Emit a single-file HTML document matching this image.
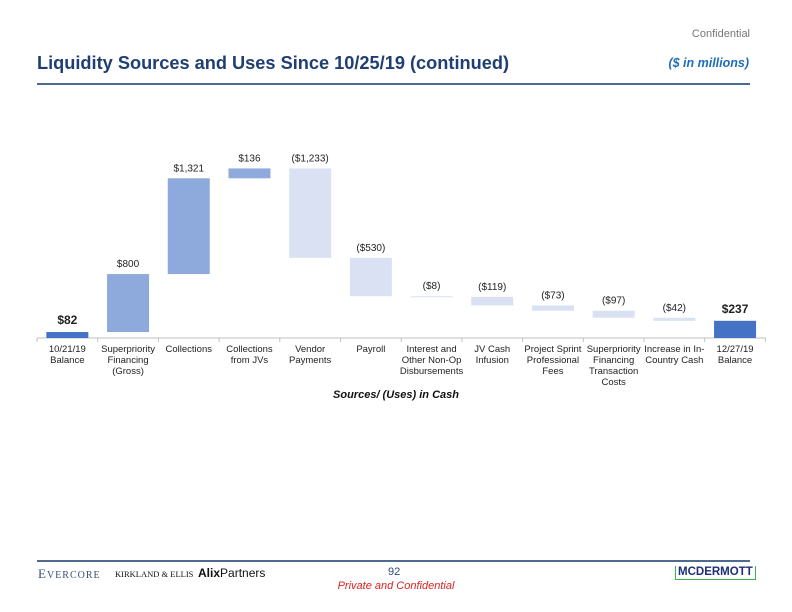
<!DOCTYPE html>
<html><head><meta charset="utf-8"><style>
body{margin:0;width:792px;height:612px;background:#fff;font-family:"Liberation Sans",sans-serif;position:relative;overflow:hidden}
.abs{position:absolute}
</style></head><body>
<div class="abs" style="right:42px;top:28px;font-size:11px;color:#777">Confidential</div>
<div class="abs" style="left:37px;top:53px;font-size:18.2px;font-weight:bold;color:#1F3F73">Liquidity Sources and Uses Since 10/25/19 (continued)</div>
<div class="abs" style="right:43px;top:56px;font-size:12.5px;font-weight:bold;font-style:italic;color:#1E6EB8">($ in millions)</div>
<div class="abs" style="left:37px;top:83px;width:713px;height:2px;background:#4F6A8F"></div>

<svg class="abs" style="left:0;top:0" width="792" height="612" id="chart"></svg>

<div class="abs" style="left:37px;top:560px;width:713px;height:1.5px;background:#4F6A8F"></div>
<div class="abs" style="left:38px;top:566px;font-family:'Liberation Serif',serif;font-size:13px;color:#3A4F7A;letter-spacing:1px">E<span style="font-size:10px">VERCORE</span></div>
<div class="abs" style="left:115px;top:569px;font-family:'Liberation Serif',serif;font-size:8.5px;color:#111">KIRKLAND &amp; ELLIS</div>
<div class="abs" style="left:198px;top:566px;font-size:12px;color:#111"><b>Alix</b>Partners</div>
<div class="abs" style="left:388px;top:566px;font-size:11px;color:#2B4A7A">92</div>
<div class="abs" style="left:0;width:792px;text-align:center;top:580px;font-size:11px;font-style:italic;color:#E02020">Private and Confidential</div>
<div class="abs" style="left:675px;top:566px;font-size:11.5px;font-weight:bold;color:#1C2F7A;border-bottom:1.5px solid #3BB54A;border-left:1.5px solid #3BB54A;border-right:1.5px solid #3BB54A;padding:0 2px;line-height:13px">MCDERMOTT</div>

<script>
const categories=[["10/21/19","Balance"],["Superpriority","Financing","(Gross)"],["Collections"],["Collections","from JVs"],["Vendor","Payments"],["Payroll"],["Interest and","Other Non-Op","Disbursements"],["JV Cash","Infusion"],["Project Sprint","Professional","Fees"],["Superpriority","Financing","Transaction","Costs"],["Increase in In-","Country Cash"],["12/27/19","Balance"]];
const values=[82,800,1321,136,-1233,-530,-8,-119,-73,-97,-42,237];
const kinds=["total","delta","delta","delta","delta","delta","delta","delta","delta","delta","delta","total"];
const valueLabels=["$82","$800","$1,321","$136","($1,233)","($530)","($8)","($119)","($73)","($97)","($42)","$237"];

const svg=document.getElementById('chart');
const NS='http://www.w3.org/2000/svg';
const baseY=338, pxPer=0.0725, x0=37, step=60.7, barW=42;
const y=v=>baseY-v*pxPer;
const xc=i=>x0+step*(i+0.5);
function mk(t,a){const e=document.createElementNS(NS,t);for(const k in a)e.setAttribute(k,a[k]);svg.appendChild(e);return e;}
let axis=mk('line',{x1:x0,x2:x0+step*12,y1:baseY,y2:baseY,stroke:'#BFBFBF','stroke-width':1});


for(let i=0;i<=12;i++){const t=mk('line',{x1:x0+step*i,x2:x0+step*i,y1:baseY,y2:baseY+4,stroke:'#BFBFBF'});

}
let run=0;
values.forEach((v,i)=>{
  let a,b,fill;
  if(kinds[i]==='total'){a=0;b=v;run=v;fill='#4472C4';}
  else{a=run;b=run+v;run=b;fill=v>=0?'#8EA9DB':'#D9E1F2';}
  const top=Math.min(y(a),y(b)),h=Math.max(Math.abs(y(a)-y(b)),1);
  const r=mk('rect',{x:xc(i)-barW/2,y:top,width:barW,height:h,fill:fill});
  
  
  const bold=kinds[i]==='total';
  const t=mk('text',{x:xc(i),y:top-(bold?8:7),'text-anchor':'middle','font-size':bold?12:10,'font-weight':bold?'bold':'normal',fill:'#222'});
  t.textContent=valueLabels[i];
  
  
  categories[i].forEach((ln,j)=>{
    const c=mk('text',{x:xc(i),y:352+j*11,'text-anchor':'middle','font-size':9.5,fill:'#222'});
    c.textContent=ln;
    
    
  });
});
const at=mk('text',{x:396,y:398,'text-anchor':'middle','font-size':11,'font-weight':'bold','font-style':'italic',fill:'#111'});
at.textContent='Sources/ (Uses) in Cash';


</script>
</body></html>
